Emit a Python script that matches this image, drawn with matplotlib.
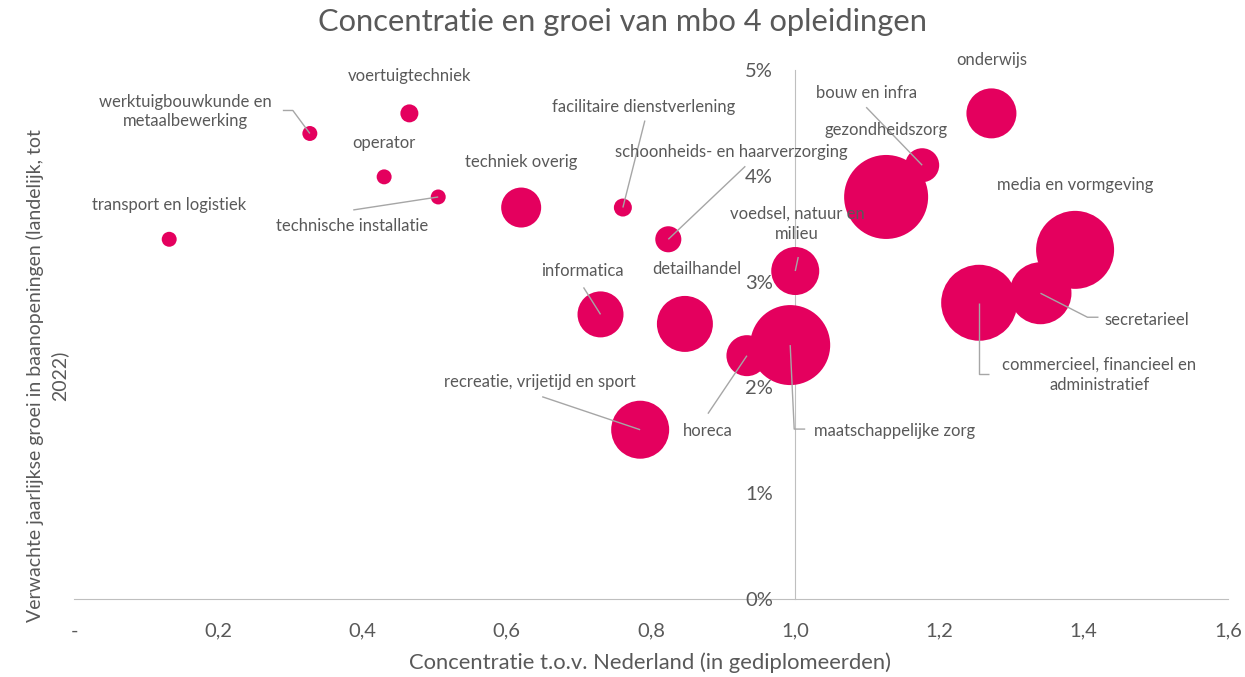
import matplotlib
matplotlib.use("Agg")
import matplotlib.pyplot as plt
import numpy as np

# ---------------- data ----------------
opleidingen = [
    "transport en logistiek", "werktuigbouwkunde en\nmetaalbewerking", "voertuigtechniek",
    "operator", "technische installatie", "techniek overig", "facilitaire dienstverlening",
    "schoonheids- en haarverzorging", "voedsel, natuur en\nmilieu", "informatica",
    "detailhandel", "recreatie, vrijetijd en sport", "horeca", "maatschappelijke zorg",
    "onderwijs", "bouw en infra", "gezondheidszorg", "media en vormgeving",
    "secretarieel", "commercieel, financieel en\nadministratief",
]
concentratie = [0.132, 0.327, 0.465, 0.430, 0.505, 0.620, 0.761, 0.824, 1.000, 0.730,
                0.847, 0.785, 0.933, 0.993, 1.272, 1.176, 1.126, 1.388, 1.340, 1.255]
groei = [3.40, 4.40, 4.59, 3.99, 3.80, 3.70, 3.70, 3.40, 3.10, 2.69,
         2.60, 1.60, 2.30, 2.40, 4.59, 4.10, 3.80, 3.30, 2.89, 2.80]
# bubble size (relative area)
omvang = [56, 56, 81, 56, 56, 400, 81, 170, 576, 529,
          784, 841, 420, 1600, 625, 289, 1764, 1521, 961, 1444]

x_ticks = [0, 0.2, 0.4, 0.6, 0.8, 1.0, 1.2, 1.4, 1.6]
x_ticklabels = ["-", "0,2", "0,4", "0,6", "0,8", "1,0", "1,2", "1,4", "1,6"]
y_ticks = [0, 1, 2, 3, 4, 5]
y_ticklabels = ["0%", "1%", "2%", "3%", "4%", "5%"]

# label layout: (dx, dy) in pixels from bubble centre (dy up), alignment, leader points
layout = [
    ((0, 34), "center", None),
    ((-124, 22), "center", [(-27, 23), (-17, 23), (0, 0)]),
    ((0, 37), "center", None),
    ((0, 34), "center", None),
    ((-86, -29), "center", [(-85, -13), (0, 0)]),
    ((0, 46), "center", None),
    ((21, 101), "center", [(22, 87), (0, 0)]),
    ((63, 87), "center", [(77, 73), (0, 0)]),
    ((2, 47), "center", [(3, 14), (0, 0)]),
    ((-18, 43), "center", [(-17, 27), (0, 0)]),
    ((12, 55), "center", None),
    ((-100, 48), "center", [(-98, 33), (0, 0)]),
    ((-39, -75), "center", [(-39, -58), (0, 0)]),
    ((24, -86), "left", [(0, 0), (4, -84), (15, -84)]),
    ((0, 53), "center", None),
    ((-56, 72), "center", [(-56, 58), (0, 0)]),
    ((0, 67), "center", None),
    ((0, 65), "center", None),
    ((64, -27), "left", [(0, 0), (47, -24), (58, -24)]),
    ((120, -72), "center", [(0, 0), (0, -71), (10, -71)]),
]

# ---------------- style ----------------
plt.rcParams['font.family'] = ['Lato', 'DejaVu Sans']
TXT = "#595959"
PINK = "#E4005E"
LINE = "#A6A6A6"
AX = "#BFBFBF"

W, H = 1245, 677
fig = plt.figure(figsize=(W / 100, H / 100), dpi=100)
left, right, bottom, top = 74, 1228, 599, 70
ax = fig.add_axes([left / W, 1 - bottom / H, (right - left) / W, (bottom - top) / H])
ax.set_xlim(0, 1.6)
ax.set_ylim(0, 5)

px_x = (right - left) / 1.6
px_y = (bottom - top) / 5.0

s = np.array(omvang) * (2 * 0.72) ** 2
ax.scatter(concentratie, groei, s=s, color=PINK, edgecolors="none", zorder=3)

for name, xv, yv, (off, ha, lead) in zip(opleidingen, concentratie, groei, layout):
    tx = xv + off[0] / px_x
    ty = yv + off[1] / px_y
    ax.text(tx, ty, name, ha=ha, va="center", fontsize=12, color=TXT,
            multialignment="center", zorder=5, clip_on=False, linespacing=1.3)
    if lead:
        lx = [xv + p[0] / px_x for p in lead]
        ly = [yv + p[1] / px_y for p in lead]
        ax.plot(lx, ly, color=LINE, lw=1.0, zorder=4, clip_on=False,
                solid_capstyle="butt")

# axes
for sp in ["top", "right"]:
    ax.spines[sp].set_visible(False)
ax.spines["left"].set_position(("data", 1.0))
ax.spines["left"].set_color(AX)
ax.spines["bottom"].set_color(AX)
ax.spines["left"].set_zorder(1)
ax.spines["bottom"].set_zorder(1)
ax.set_xticks(x_ticks)
ax.set_xticklabels(x_ticklabels)
ax.set_yticks(y_ticks)
ax.set_yticklabels(y_ticklabels)
ax.tick_params(axis="both", length=0, colors=TXT, labelsize=14.5)
ax.tick_params(axis="x", pad=17)
ax.tick_params(axis="y", pad=16)
ax.set_facecolor("none")

fig.text(650 / W, 1 - 663 / H, "Concentratie t.o.v. Nederland (in gediplomeerden)",
         ha="center", va="center", fontsize=15.8, color=TXT)
fig.text(47 / W, 1 - 376 / H,
         "Verwachte jaarlijkse groei in baanopeningen (landelijk, tot\n2022)",
         rotation=90, ha="center", va="center", fontsize=14.0, color=TXT,
         multialignment="center", linespacing=1.45)
fig.text(622 / W, 1 - 22 / H, "Concentratie en groei van mbo 4 opleidingen",
         ha="center", va="center", fontsize=22.2, color=TXT)

fig.savefig("out.png", dpi=100)
